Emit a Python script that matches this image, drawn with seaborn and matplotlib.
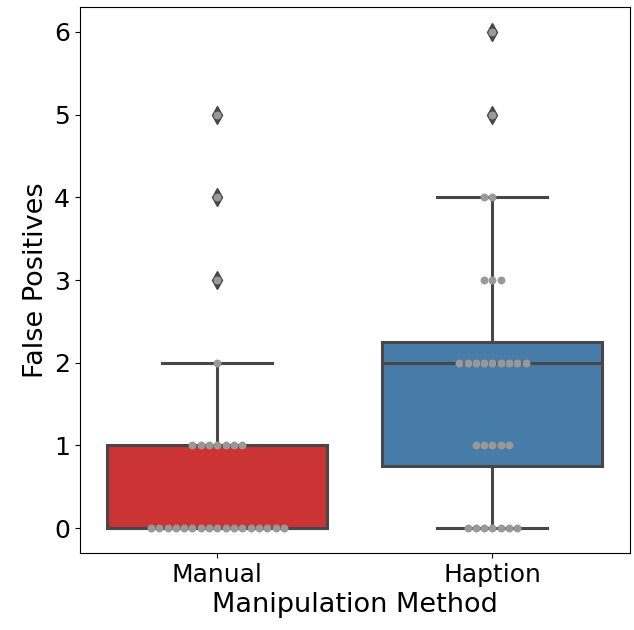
import numpy as np
import pandas as pd
import matplotlib
matplotlib.use('Agg')
import matplotlib.pyplot as plt
import seaborn as sns

# counts
methods = ['Manual', 'Haption']
fp_values = [0, 1, 2, 3, 4, 5, 6]
manual_counts = [17, 7, 1, 1, 1, 1, 0]
haption_counts = [7, 5, 9, 3, 2, 1, 1]

rows = []
for method, counts in zip(methods, [manual_counts, haption_counts]):
    for v, c in zip(fp_values, counts):
        rows += [(method, v)] * c
df = pd.DataFrame(rows, columns=['Manipulation Method', 'False Positives'])

line_gray = '#474747'

fig = plt.figure(figsize=(6.34, 6.30), dpi=100)
ax = fig.add_axes([0.126, 0.1222, 0.8677, 0.8667])

sns.boxplot(data=df, x='Manipulation Method', y='False Positives',
            hue='Manipulation Method', palette='Set1', saturation=0.75,
            order=methods, legend=False, width=0.8, linewidth=2.2,
            linecolor=line_gray,
            flierprops=dict(marker='d', markerfacecolor=line_gray,
                            markeredgecolor=line_gray, markersize=9),
            ax=ax)
sns.swarmplot(data=df, x='Manipulation Method', y='False Positives',
              order=methods, color='.6', size=5.7, ax=ax)

ax.set_xlabel('Manipulation Method', fontsize=19.5)
ax.set_ylabel('False Positives', fontsize=19.5)
ax.tick_params(labelsize=18)
ax.set_ylim(-0.3, 6.3)
ax.set_xlim(-0.5, 1.5)

fig.savefig('out.png', dpi=100)
